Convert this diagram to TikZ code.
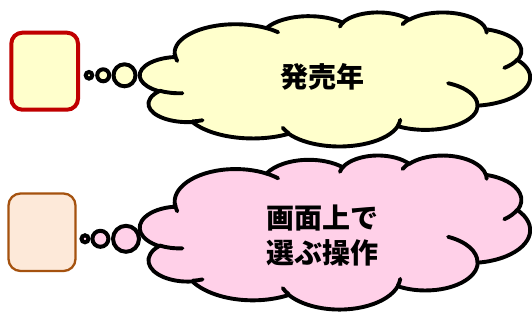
\documentclass[tikz,border=0pt]{standalone}
\usepackage{fontspec}
\newfontfamily\cjk{Noto Sans CJK JP}
\definecolor{cloudyellow}{RGB}{255,255,204}
\definecolor{cloudpink}{RGB}{255,208,232}
\definecolor{boxpeach}{RGB}{253,233,217}
\definecolor{boxbrown}{RGB}{165,82,15}
\definecolor{boxred}{RGB}{192,0,0}
% convert a visual (OOXML) ellipse angle to a parametric one
\pgfmathdeclarefunction{vp}{3}{%
  \begingroup
  \pgfmathparse{atan2(#2*sin(#1),#3*cos(#1))}%
  \let\vpt\pgfmathresult
  \pgfmathparse{\vpt+360*round((#1-\vpt)/360)}%
  \pgfmathsmuggle\pgfmathresult
  \endgroup}
\tikzset{
  oa/.style n args={4}{insert path={arc[x radius=#1, y radius=#2,
      start angle={vp(#3,#1,#2)}, end angle={vp(#3+#4,#1,#2)}]}},
  cloudline/.style={line width=3.9pt, line join=round, line cap=round},
  bubble/.style={line width=4pt, draw=black},
  thought/.style={font=\cjk\bfseries\fontsize{28}{35}\selectfont, align=center, inner sep=0pt},
}
\newcommand\drawcloud[1]{%
  \filldraw[cloudline, draw=black, fill=#1]
    (39,143.70)
    [oa={67.53}{91.90}{-190.4875}{123.7805}]
    [oa={53.33}{72.67}{-144.1024}{89.9452}]
    [oa={43.65}{59.45}{-145.8079}{99.7230}]
    [oa={48.57}{65.95}{-130.9861}{117.2417}]
    [oa={53.33}{72.73}{-78.7089}{109.0269}]
    [oa={67.75}{92.20}{-46.2673}{130.2690}]
    [oa={57.85}{78.67}{0.6250}{114.0333}]
    [oa={67.52}{92.15}{22.4516}{115.1726}]
    [oa={77.20}{105.43}{66.2426}{75.7110}]
    [oa={43.60}{59.18}{-274.9421}{146.7356}]
    [oa={43.45}{59.45}{-246.8285}{152.5189}]
    -- cycle;
  \draw[cloudline]
    (46.93,261.77) [oa={43.45}{59.45}{86.742}{26.4295}]
    (69.28,348.99) [oa={43.60}{59.18}{73.6105}{11.4475}]
    (164.78,390.90) [oa={67.52}{92.15}{137.6242}{14.0811}]
    (288.27,347.51) [oa={67.52}{92.15}{6.4533}{15.9984}]
    (341.29,229.54) [oa={57.85}{78.67}{-70.2924}{70.9174}]
    (417.98,153.54) [oa={53.33}{72.73}{30.3180}{27.7515}]
    (383.24,54.26) [oa={48.57}{65.95}{-13.7443}{14.8589}]
    (290.78,39.52) [oa={48.57}{65.95}{-149.1815}{18.1954}]
    (221.41,47.20) [oa={43.65}{59.45}{-163.4943}{17.6864}]
    (140.00,51.92) [oa={67.53}{91.90}{-66.7070}{12.3194}]
    (41.27,157.89) [oa={67.53}{91.90}{158.9559}{17.8023}];
}
\begin{document}
\begin{tikzpicture}[x=1pt, y=-1pt]
\useasboundingbox[fill=white] (0,0) rectangle (532,320);

% top row
\draw[line width=4pt, draw=boxred, fill=cloudyellow, rounded corners=11pt]
  (11.3,32.7) rectangle (78,109.7);
\draw[bubble, fill=cloudyellow] (89,75.3) circle[radius=3.3];
\draw[bubble, fill=cloudyellow] (103.2,75.3) circle[radius=6];
\draw[bubble, fill=cloudyellow] (124.5,75.3) circle[radius=11];
\begin{scope}[xshift=140pt, yshift=-12pt, x=0.90278pt, y=-0.31019pt]
  \drawcloud{cloudyellow}
\end{scope}
\node[thought] (t1) at (322,77) {発売年};

% bottom row
\draw[line width=2.3pt, draw=boxbrown, fill=boxpeach, rounded corners=12pt]
  (8.5,193.5) rectangle (75.5,271);
\draw[bubble, fill=cloudpink] (85,238.8) circle[radius=3.5];
\draw[bubble, fill=cloudpink] (100.4,238.8) circle[radius=8];
\draw[bubble, fill=cloudpink] (126,238.8) circle[radius=13];
\begin{scope}[xshift=140pt, yshift=-155pt, x=0.90278pt, y=-0.35648pt]
  \drawcloud{cloudpink}
\end{scope}
\node[thought] (t2) at (322,236) {画面上で\\選ぶ操作};
\end{tikzpicture}
\end{document}
